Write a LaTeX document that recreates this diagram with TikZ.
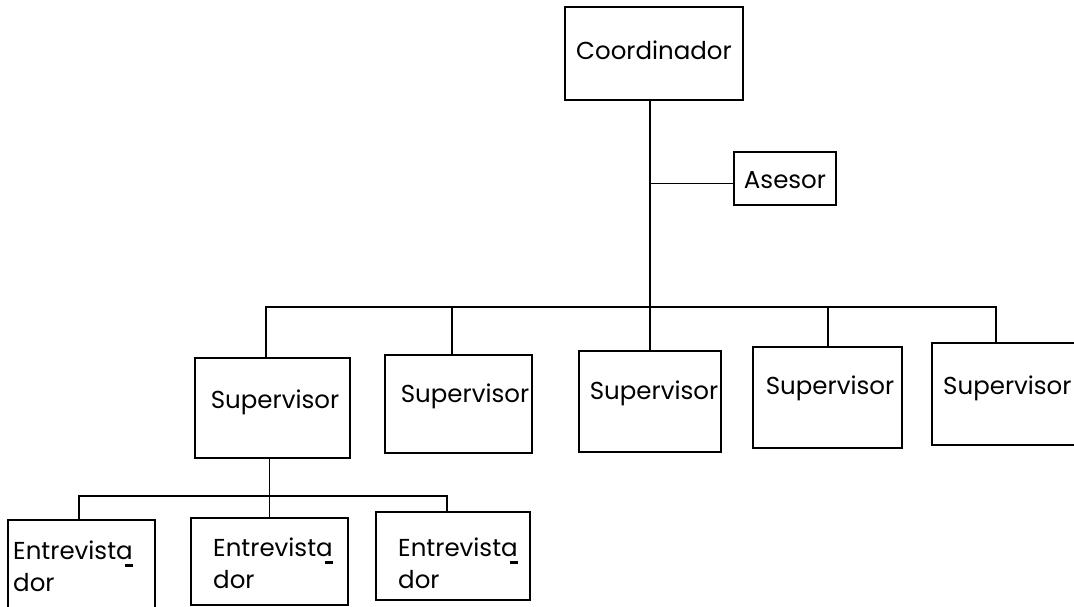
\documentclass[tikz,border=0pt]{standalone}
\usepackage{fontspec}
\setmainfont{Poppins}
\newcommand{\ua}{a\llap{\rule[-8pt]{8pt}{3pt}}}
\begin{document}
\begin{tikzpicture}[x=1pt,y=-1pt,
  box/.style={draw,line width=1.8pt,inner sep=0pt},
  lbl/.style={inner sep=0pt,font=\fontsize{24.5}{32}\selectfont},
  conn/.style={line width=1.8pt}]
\clip (0,0) rectangle (1074,607);
\fill[white] (0,0) rectangle (1074,607);
% boxes
\node[box,minimum width=178pt,minimum height=93pt] (coord) at (654,53.5) {};
\node[box,minimum width=102pt,minimum height=53pt] (ases) at (785,178.5) {};
\node[box,minimum width=155pt,minimum height=100pt] (s1) at (272.5,408) {};
\node[box,minimum width=147pt,minimum height=98pt] (s2) at (458.5,404) {};
\node[box,minimum width=142pt,minimum height=101pt] (s3) at (650,401.5) {};
\node[box,minimum width=149pt,minimum height=101pt] (s4) at (827.5,397.5) {};
\node[box,minimum width=160pt,minimum height=102pt] (s5) at (1012,394) {};
\node[box,minimum width=147pt,minimum height=110pt] (e1) at (81.5,575) {};
\node[box,minimum width=157pt,minimum height=87pt] (e2) at (269.5,561.5) {};
\node[box,minimum width=154pt,minimum height=88pt] (e3) at (453,556) {};
% texts
\node[lbl] (tcoord) at (654,50) {Coordinador};
\node[lbl] (tases) at (785,180) {Asesor};
\node[lbl] (ts1) at (275,402) {Supervisor};
\node[lbl] (ts2) at (465,396) {Supervisor};
\node[lbl] (ts3) at (654,393) {Supervisor};
\node[lbl] (ts4) at (830,388) {Supervisor};
\node[lbl,anchor=west] (ts5) at (943,388) {Supervisor};
\node[lbl,anchor=west,align=left] (te1) at (13,566) {Entrevist\ua\\dor};
\node[lbl,anchor=west,align=left] (te2) at (213,563) {Entrevist\ua\\dor};
\node[lbl,anchor=west,align=left] (te3) at (398,563) {Entrevist\ua\\dor};
% connectors
\coordinate (busL) at (266,307);
\coordinate (busR) at (996,307);
\coordinate (d2) at (452,307);
\coordinate (d4) at (828,307);
\coordinate (sbL) at (79,496);
\coordinate (sbR) at (447,496);
\draw[conn] (s3.north |- coord.south) -- (s3.north);
\draw[conn] ([yshift=-5pt]ases.west) -- ([yshift=-5pt]ases.west -| s3.north);
\draw[conn] (busL |- s1.north) -- (busL) -- (busR) -- (busR |- s5.north);
\draw[conn] (d2) -- (d2 |- s2.north);
\draw[conn] (d4) -- (d4 |- s4.north);
\draw[conn] (e2.north |- s1.south) -- (e2.north);
\draw[conn] (sbL |- e1.north) -- (sbL) -- (sbR) -- (sbR |- e3.north);
\end{tikzpicture}
\end{document}
